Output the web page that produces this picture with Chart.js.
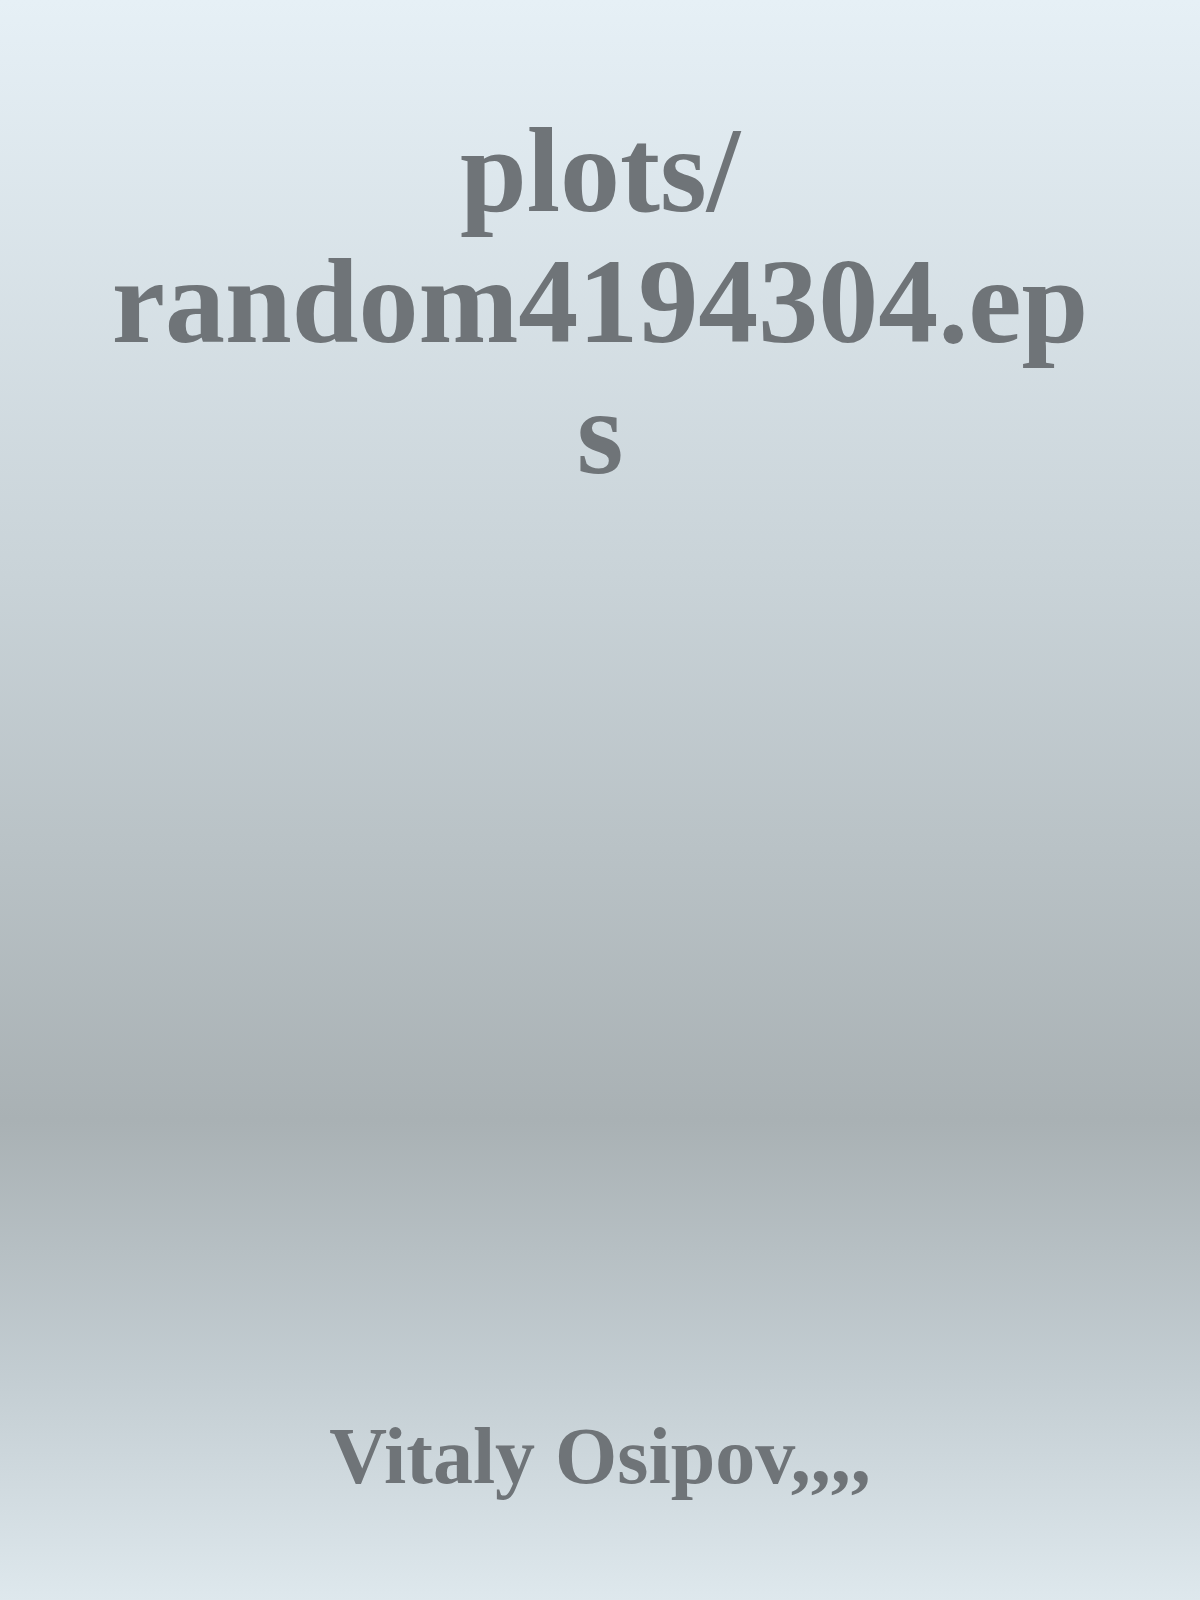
<!DOCTYPE html>
<html>
<head>
<meta charset="utf-8">
<script src="https://cdn.jsdelivr.net/npm/chart.js@4"></script>
<style>
  html, body { margin: 0; padding: 0; }
  body {
    width: 1200px; height: 1600px; overflow: hidden;
    background: linear-gradient(to bottom, #e6f0f6 0%, #c9d3d8 36%, #a9b1b4 70%, #c3cdd2 86%, #dee8ed 100%);
  }
  #wrap { position: relative; width: 1200px; height: 1600px; }
</style>
</head>
<body>
<div id="wrap"><canvas id="c"></canvas></div>
<script>
const titleLines = ["plots/", "random4194304.ep", "s"];
const authorLines = ["Vitaly Osipov,,,,"];
const categories = [];
const seriesValues = [];

const textColor = "#6f7478";

new Chart(document.getElementById("c"), {
  type: "line",
  data: {
    labels: categories,
    datasets: [{ data: seriesValues, borderWidth: 0, pointRadius: 0 }]
  },
  options: {
    responsive: true,
    maintainAspectRatio: false,
    animation: false,
    layout: { padding: 0 },
    scales: { x: { display: false }, y: { display: false } },
    plugins: {
      legend: { display: false },
      tooltip: { enabled: false },
      title: {
        display: true,
        text: titleLines,
        color: textColor,
        font: { family: "'Liberation Serif', serif", size: 120, weight: "bold", lineHeight: 1.09 },
        padding: { top: 115, bottom: 0 }
      },
      subtitle: {
        display: true,
        position: "bottom",
        text: authorLines,
        color: textColor,
        font: { family: "'Liberation Serif', serif", size: 80, weight: "bold", lineHeight: 1.2 },
        padding: { top: 0, bottom: 90 }
      }
    }
  }
});
</script>
</body>
</html>
